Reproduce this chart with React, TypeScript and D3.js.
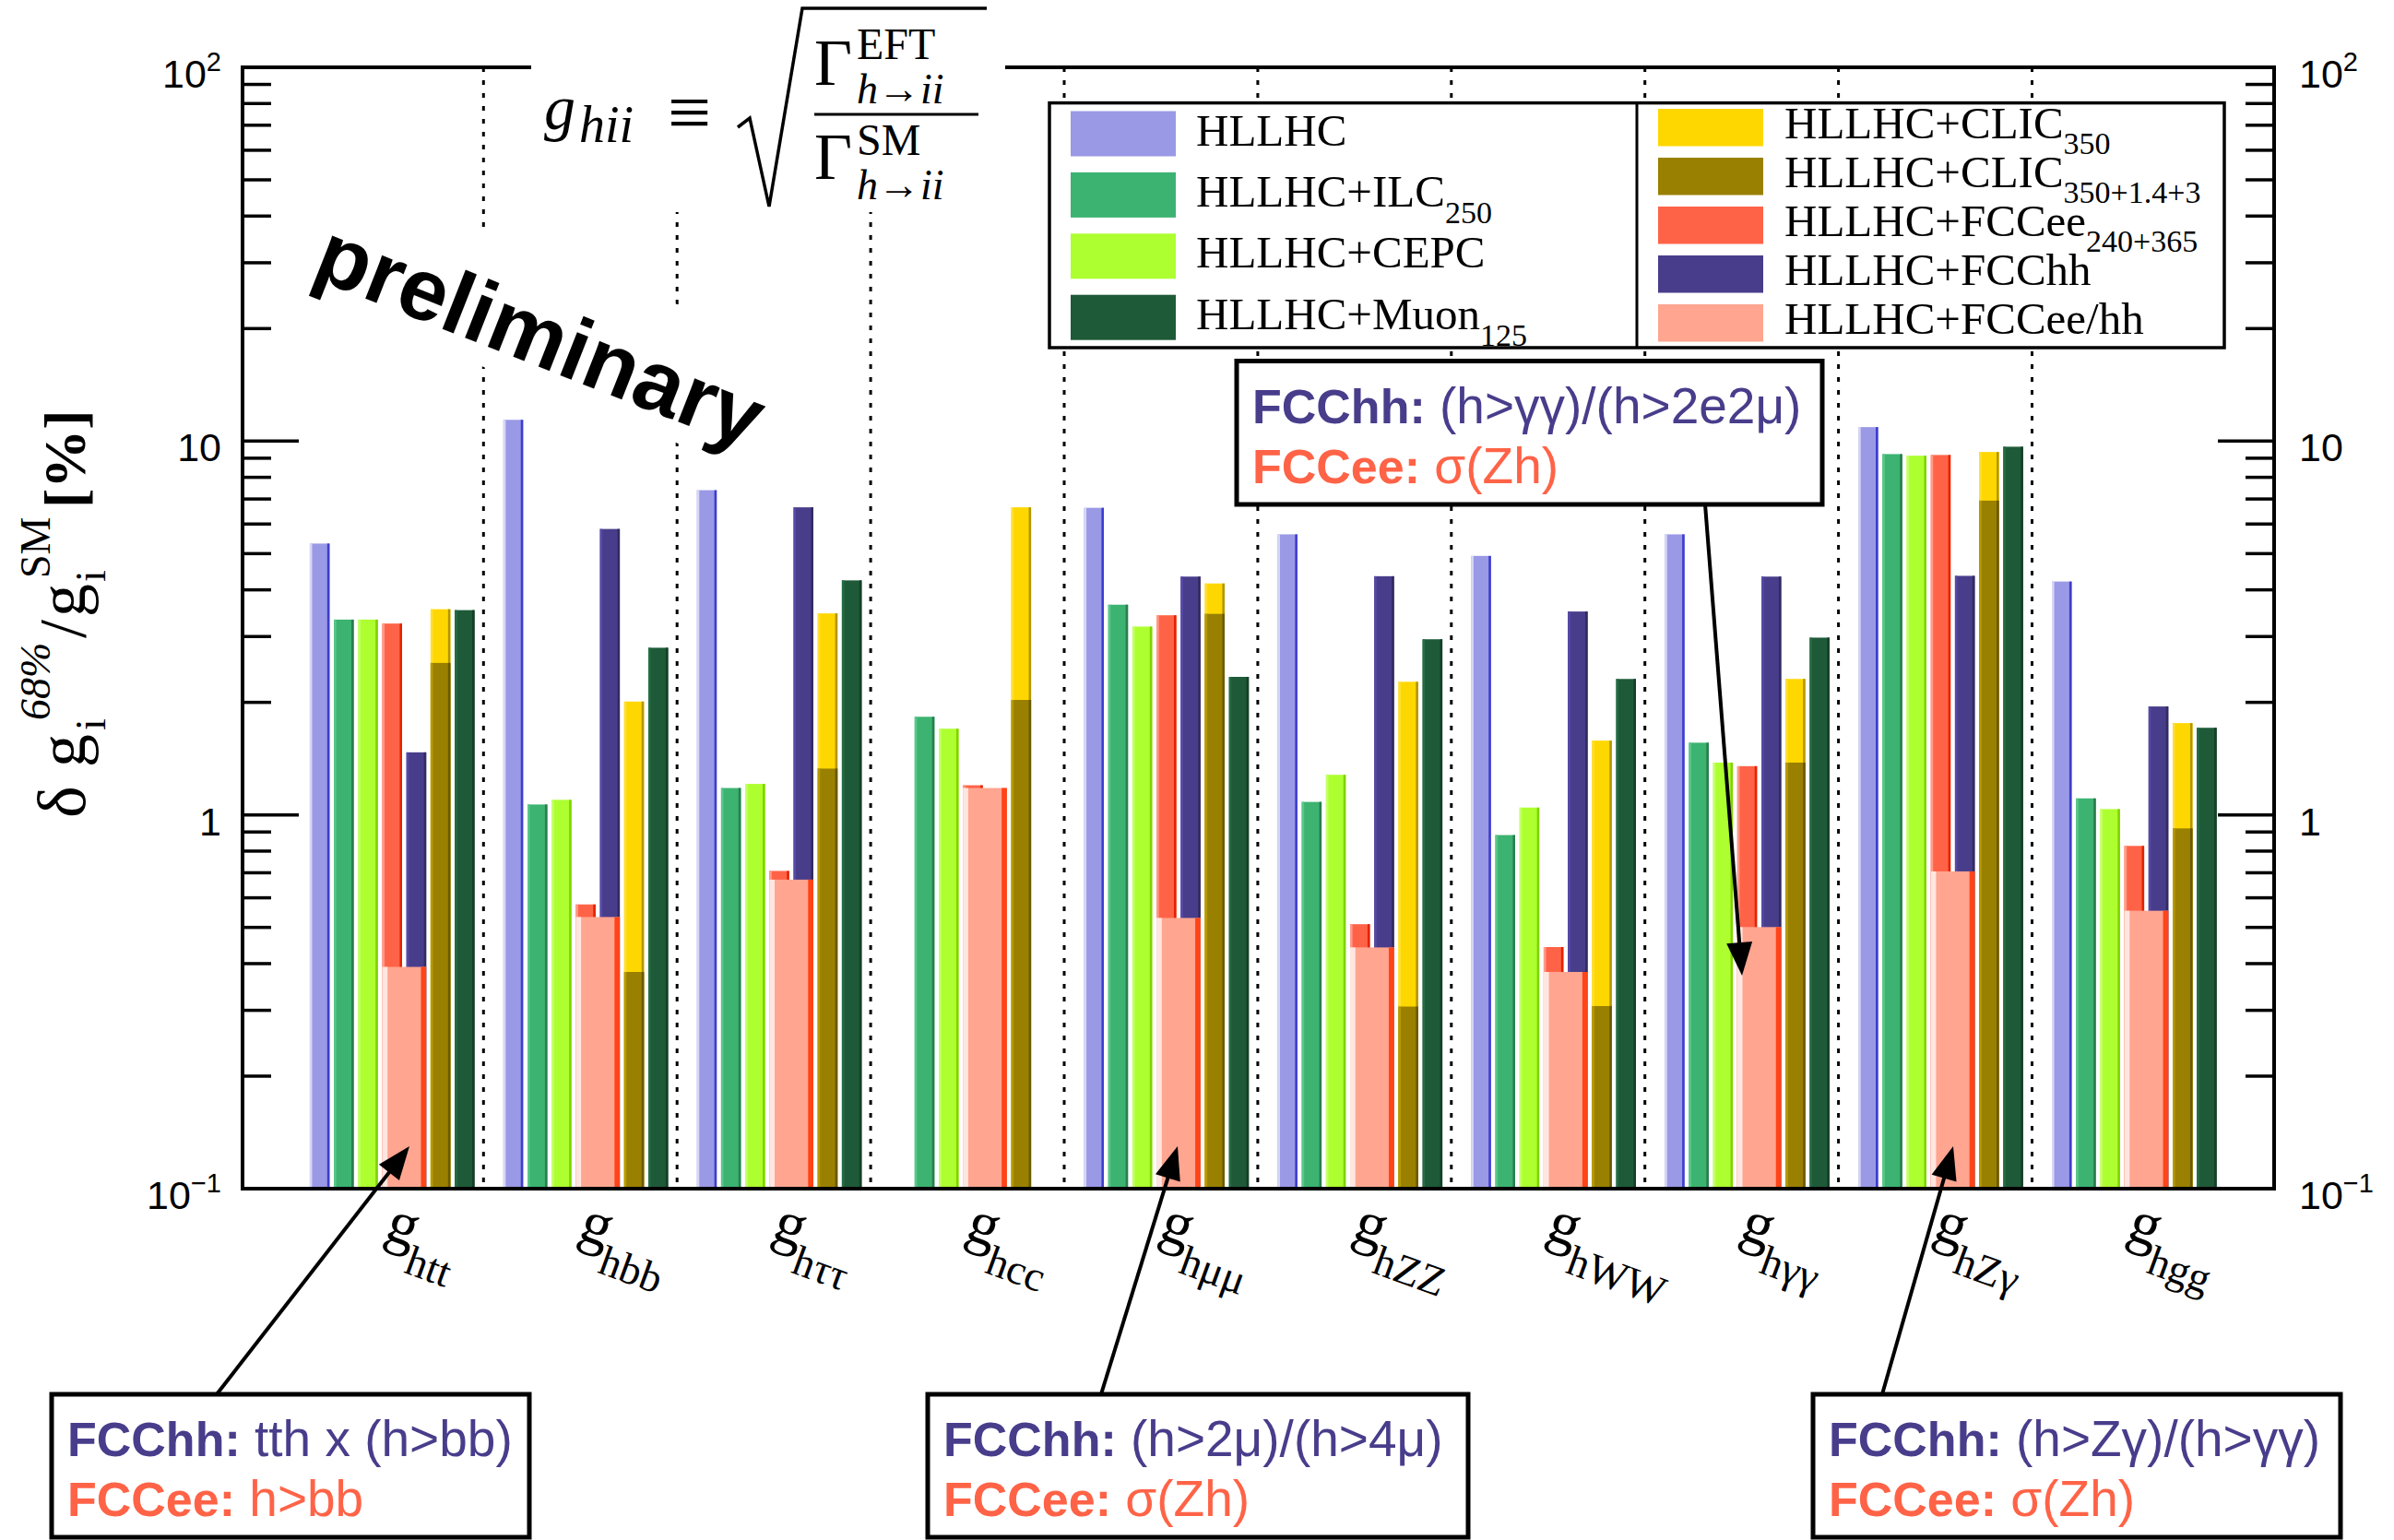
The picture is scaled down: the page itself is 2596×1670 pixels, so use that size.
import React from "react";
import * as d3 from "d3";

// ---------------- data ----------------
const categories = ["htt", "hbb", "hττ", "hcc", "hμμ", "hZZ", "hWW", "hγγ", "hZγ", "hgg"];
const hllhc = [5.32, 11.4, 7.39, null, 6.63, 5.63, 4.93, 5.63, 10.9, 4.21];
const ilc250 = [3.33, 1.066, 1.18, 1.83, 3.65, 1.083, 0.883, 1.56, 9.23, 1.107];
const cepc = [3.33, 1.097, 1.21, 1.7, 3.19, 1.28, 1.046, 1.38, 9.14, 1.036];
const fccee = [3.25, 0.576, 0.708, 1.2, 3.42, 0.51, 0.443, 1.35, 9.18, 0.826];
const fcchh = [1.47, 5.82, 6.65, null, 4.34, 4.35, 3.5, 4.34, 4.36, 1.95];
const fcceehh = [0.392, 0.533, 0.671, 1.18, 0.53, 0.442, 0.38, 0.501, 0.706, 0.554];
const clic350 = [3.55, 2.01, 3.46, 6.65, 4.16, 2.27, 1.58, 2.31, 9.35, 1.76];
const clicAll = [2.55, 0.38, 1.33, 2.03, 3.45, 0.307, 0.308, 1.38, 6.93, 0.92];
const muon125 = [3.53, 2.8, 4.24, null, 2.34, 2.95, 2.31, 2.98, 9.66, 1.71];

const yTickValues = [0.1, 1, 10, 100];
const yTickBase = ["10", "1", "10", "10"];
const yTickExp = ["−1", "", "", "2"];

const legendLeft = [
  { label: "HLLHC", sub: "", color: "#9999E6" },
  { label: "HLLHC+ILC", sub: "250", color: "#3CB371" },
  { label: "HLLHC+CEPC", sub: "", color: "#ADFF2F" },
  { label: "HLLHC+Muon", sub: "125", color: "#1E5A38" },
];
const legendRight = [
  { label: "HLLHC+CLIC", sub: "350", color: "#FFD700" },
  { label: "HLLHC+CLIC", sub: "350+1.4+3", color: "#998000" },
  { label: "HLLHC+FCCee", sub: "240+365", color: "#FF6347" },
  { label: "HLLHC+FCChh", sub: "", color: "#483D8B" },
  { label: "HLLHC+FCCee/hh", sub: "", color: "#FFA590" },
];

const notes = [
  { hh: "tth x (h>bb)", ee: "h>bb" },
  { hh: "(h>2μ)/(h>4μ)", ee: "σ(Zh)" },
  { hh: "(h>Zγ)/(h>γγ)", ee: "σ(Zh)" },
  { hh: "(h>γγ)/(h>2e2μ)", ee: "σ(Zh)" },
];

// ---------------- layout ----------------
const W = 2596;
const H = 1670;
const FL = 263, FR = 2466, FT = 73, FB = 1289;
const SERIF = "'Liberation Serif','Times New Roman',Times,serif";
const SANS = "'Liberation Sans',Arial,Helvetica,sans-serif";
const NAVY = "#483D8B";
const TOMATO = "#FF6347";

const yScale = d3.scaleLog().domain([0.1, 100]).range([FB, FT]);
const xGroup = d3.scaleBand<string>().domain(categories).range([314.4, 2413.4]);
const slots = ["HLLHC", "ILC", "CEPC", "FCCee", "FCChh", "CLIC", "Muon", "gap"];
const xSlot = d3.scaleBand<string>().domain(slots).range([21.5, 21.5 + 8 * 26.2]);
const BW = 21.5;

const series = [
  { values: hllhc, slot: "HLLHC", span: 1, color: "#9999E6" },
  { values: ilc250, slot: "ILC", span: 1, color: "#3CB371" },
  { values: cepc, slot: "CEPC", span: 1, color: "#ADFF2F" },
  { values: fccee, slot: "FCCee", span: 1, color: "#FF6347" },
  { values: fcchh, slot: "FCChh", span: 1, color: "#483D8B" },
  { values: fcceehh, slot: "FCCee", span: 2, color: "#FFA590" },
  { values: clic350, slot: "CLIC", span: 1, color: "#FFD700" },
  { values: clicAll, slot: "CLIC", span: 1, color: "#998000" },
  { values: muon125, slot: "Muon", span: 1, color: "#1E5A38" },
];

function Bar3D({ x, w, v, color }: { x: number; w: number; v: number | null; color: string }) {
  if (v == null) return null;
  const y0 = yScale(v);
  const h = FB - y0;
  const c = d3.hsl(color);
  const bright = d3.hsl(c.h, c.s, Math.min(1, c.l * 1.2)).formatHex();
  const dark = d3.hsl(c.h, c.s, c.l * 0.7).formatHex();
  const sw = Math.max(2.5, w * 0.12);
  return (
    <g>
      <rect x={x} y={y0} width={w} height={h} fill={color} />
      <rect x={x} y={y0} width={sw} height={h} fill={bright} />
      <rect x={x + w - sw} y={y0} width={sw} height={h} fill={dark} />
    </g>
  );
}

function Arrow({ x1, y1, x2, y2 }: { x1: number; y1: number; x2: number; y2: number }) {
  const dx = x2 - x1, dy = y2 - y1;
  const L = Math.hypot(dx, dy);
  const ux = dx / L, uy = dy / L;
  const len = 36, half = 14;
  const bx = x2 - ux * len, by = y2 - uy * len;
  const pts = [
    [x2, y2],
    [bx - uy * half, by + ux * half],
    [bx + uy * half, by - ux * half],
  ];
  return (
    <g>
      <line x1={x1} y1={y1} x2={bx + ux * 4} y2={by + uy * 4} stroke="#000" strokeWidth={4} />
      <polygon points={pts.map((p) => p.join(",")).join(" ")} fill="#000" />
    </g>
  );
}

function NoteBox({ x, y, w, h, note }: { x: number; y: number; w: number; h: number; note: { hh: string; ee: string } }) {
  return (
    <g>
      <rect x={x} y={y} width={w} height={h} fill="#fff" stroke="#000" strokeWidth={5} />
      <text x={x + 17} y={y + 67} fontFamily={SANS} fontSize={52} fill={NAVY}>
        <tspan fontWeight="bold">FCChh:</tspan>
        <tspan fontSize={55}> {note.hh}</tspan>
      </text>
      <text x={x + 17} y={y + 132} fontFamily={SANS} fontSize={52} fill={TOMATO}>
        <tspan fontWeight="bold">FCCee:</tspan>
        <tspan fontSize={55}> {note.ee}</tspan>
      </text>
    </g>
  );
}

export default function App() {
  const minorTicks: number[] = [];
  [0.1, 1, 10].forEach((d) => {
    for (let k = 2; k <= 9; k++) minorTicks.push(d * k);
  });

  const separators = categories.slice(1).map((c) => xGroup(c) as number);

  return (
    <svg
      width={W}
      height={H}
      viewBox={`0 0 ${W} ${H}`}
      style={{ position: "absolute", left: 0, top: 0, background: "#fff" }}
    >
      <rect x={0} y={0} width={W} height={H} fill="#fff" />

      {/* dotted separators */}
      {separators.map((sx, i) => (
        <line key={"sep" + i} x1={sx} x2={sx} y1={FT} y2={FB} stroke="#000" strokeWidth={3} strokeDasharray="5 9" />
      ))}

      {/* bars */}
      {series.map((s, si) => (
        <g key={"s" + si}>
          {categories.map((c, ci) => {
            const x = (xGroup(c) as number) + (xSlot(s.slot) as number);
            const w = BW + (s.span - 1) * xSlot.step();
            return <Bar3D key={ci} x={x} w={w} v={s.values[ci]} color={s.color} />;
          })}
        </g>
      ))}

      {/* frame */}
      <g stroke="#000" strokeWidth={4} fill="none">
        <line x1={FL} x2={FR} y1={FT} y2={FT} />
        <line x1={FL} x2={FR} y1={FB} y2={FB} />
        <line x1={FL} x2={FL} y1={FT - 2} y2={FB + 2} />
        <line x1={FR} x2={FR} y1={FT - 2} y2={FB + 2} />
      </g>

      {/* ticks */}
      <g stroke="#000" strokeWidth={3.5}>
        {yTickValues.map((v, i) => (
          <g key={"mt" + i}>
            <line x1={FL} x2={FL + 61} y1={yScale(v)} y2={yScale(v)} />
            <line x1={FR} x2={FR - 61} y1={yScale(v)} y2={yScale(v)} />
          </g>
        ))}
        {minorTicks.map((v, i) => (
          <g key={"mn" + i}>
            <line x1={FL} x2={FL + 31} y1={yScale(v)} y2={yScale(v)} />
            <line x1={FR} x2={FR - 31} y1={yScale(v)} y2={yScale(v)} />
          </g>
        ))}
      </g>

      {/* tick labels */}
      {yTickValues.map((v, i) => (
        <g key={"tl" + i} fontFamily={SANS} fontSize={43} fill="#000">
          <text x={240} y={yScale(v) + 22} textAnchor="end">
            <tspan>{yTickBase[i]}</tspan>
            {yTickExp[i] ? (
              <tspan fontSize={29} dy={-18}>
                {yTickExp[i]}
              </tspan>
            ) : null}
          </text>
          <text x={2493} y={yScale(v) + 22} textAnchor="start">
            <tspan>{yTickBase[i]}</tspan>
            {yTickExp[i] ? (
              <tspan fontSize={29} dy={-18}>
                {yTickExp[i]}
              </tspan>
            ) : null}
          </text>
        </g>
      ))}

      {/* x labels */}
      {categories.map((c, i) => {
        const cx = (xGroup(c) as number) + xGroup.bandwidth() / 2;
        return (
          <g key={"xl" + i} transform={`translate(${cx - 4},1342) rotate(20)`}>
            <text x={0} y={0} fontFamily={SERIF} fontSize={66} fill="#000">
              g
              <tspan fontSize={46} dy={28}>
                {c}
              </tspan>
            </text>
          </g>
        );
      })}

      {/* y-axis title */}
      <g transform="translate(92,887) rotate(-90)" fontFamily={SERIF} fill="#000">
        <text x={0} y={0} fontSize={74}>δ</text>
        <text x={55} y={0} fontSize={72}>g</text>
        <text x={95} y={22} fontSize={46}>i</text>
        <text x={106} y={-38} fontSize={46} fontStyle="italic">68%</text>
        <text x={195} y={0} fontSize={72}>/</text>
        <text x={218} y={0} fontSize={72}>g</text>
        <text x={256} y={22} fontSize={46}>i</text>
        <text x={260} y={-38} fontSize={46}>SM</text>
        <text x={336} y={0} fontSize={64} fontWeight="bold">[%]</text>
      </g>

      {/* formula */}
      <rect x={576} y={0} width={514} height={230} fill="#fff" />
      <g fontFamily={SERIF} fill="#000">
        <text x={590} y={140} fontSize={68} fontStyle="italic">g</text>
        <text x={628} y={154} fontSize={56} fontStyle="italic">hii</text>
        <text x={724} y={150} fontSize={84}>≡</text>
        <path d="M800,138 L813,128 L834,224 L870,9 L1070,9" fill="none" stroke="#000" strokeWidth={3.5} />
        <line x1={883} x2={1061} y1={124} y2={124} stroke="#000" strokeWidth={3} />
        <text x={883} y={92} fontSize={71}>Γ</text>
        <text x={929} y={64} fontSize={48}>EFT</text>
        <text x={929} y={112} fontSize={46} fontStyle="italic">h→ii</text>
        <text x={883} y={194} fontSize={71}>Γ</text>
        <text x={929} y={168} fontSize={48}>SM</text>
        <text x={929} y={216} fontSize={46} fontStyle="italic">h→ii</text>
      </g>

      {/* preliminary */}
      <g transform="translate(336,300) rotate(21.5)">
        <rect x={-15} y={-118} width={550} height={140} fill="#fff" />
        <text x={0} y={0} fontFamily={SANS} fontWeight="bold" fontSize={95} fill="#000">
          preliminary
        </text>
      </g>

      {/* legend */}
      <rect x={1138} y={111.6} width={1274} height={265.4} fill="#fff" stroke="#000" strokeWidth={3.5} />
      <line x1={1775} x2={1775} y1={111.6} y2={377} stroke="#000" strokeWidth={3} />
      {legendLeft.map((e, i) => {
        const top = 120.5 + i * 66.4;
        return (
          <g key={"ll" + i}>
            <rect x={1161} y={top} width={114} height={49} fill={e.color} />
            <text x={1297} y={top + 37} fontFamily={SERIF} fontSize={49} fill="#000">
              {e.label}
              {e.sub ? (
                <tspan fontSize={34} dy={18}>
                  {e.sub}
                </tspan>
              ) : null}
            </text>
          </g>
        );
      })}
      {legendRight.map((e, i) => {
        const top = 118 + i * 53;
        return (
          <g key={"lr" + i}>
            <rect x={1798} y={top} width={114} height={40.5} fill={e.color} />
            <text x={1935} y={top + 32} fontFamily={SERIF} fontSize={49} fill="#000">
              {e.label}
              {e.sub ? (
                <tspan fontSize={34} dy={17}>
                  {e.sub}
                </tspan>
              ) : null}
            </text>
          </g>
        );
      })}

      {/* annotation boxes */}
      <NoteBox x={1341} y={391.5} w={635} h={155.5} note={notes[3]} />
      <NoteBox x={56} y={1512} w={518} h={155} note={notes[0]} />
      <NoteBox x={1006} y={1512} w={586} h={155} note={notes[1]} />
      <NoteBox x={1966} y={1512} w={572} h={155} note={notes[2]} />

      {/* arrows */}
      <Arrow x1={235} y1={1512} x2={444} y2={1243} />
      <Arrow x1={1194} y1={1512} x2={1277} y2={1243} />
      <Arrow x1={2041} y1={1512} x2={2118} y2={1243} />
      <Arrow x1={1849} y1={547} x2={1889} y2={1058} />
    </svg>
  );
}
